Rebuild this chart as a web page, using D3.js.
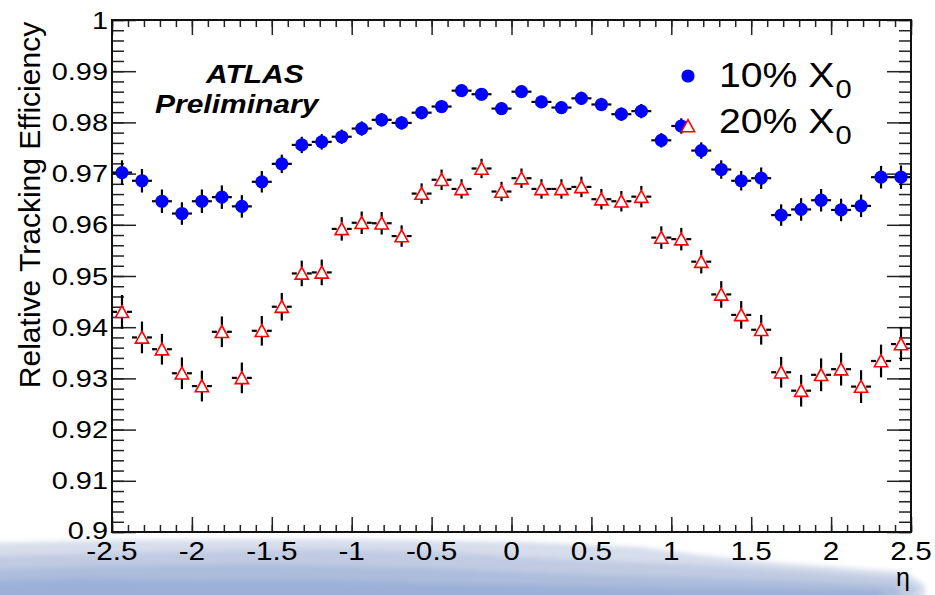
<!DOCTYPE html>
<html>
<head>
<meta charset="utf-8">
<script src="https://cdn.jsdelivr.net/npm/d3@7"></script>
<style>
html,body{margin:0;padding:0;background:#fff;}
svg{display:block;}
text{font-family:"Liberation Sans",Arial,Helvetica,sans-serif;fill:#000;}
</style>
</head>
<body>
<svg id="chart" width="935" height="595"></svg>
<script>
// ---- data ----
const etaCenters = [-2.4375,-2.3125,-2.1875,-2.0625,-1.9375,-1.8125,-1.6875,-1.5625,-1.4375,-1.3125,
  -1.1875,-1.0625,-0.9375,-0.8125,-0.6875,-0.5625,-0.4375,-0.3125,-0.1875,-0.0625,
  0.0625,0.1875,0.3125,0.4375,0.5625,0.6875,0.8125,0.9375,1.0625,1.1875,
  1.3125,1.4375,1.5625,1.6875,1.8125,1.9375,2.0625,2.1875,2.3125,2.4375];
const binHalfWidth = 0.0625;
const eff10 = [0.9702,0.9686,0.9646,0.9622,0.9646,0.9654,0.9636,0.9684,0.9719,0.9756,
  0.9762,0.9772,0.9788,0.9805,0.9799,0.9819,0.9831,0.9862,0.9855,0.9827,
  0.9860,0.9840,0.9829,0.9847,0.9835,0.9816,0.9822,0.9765,0.9793,0.9745,
  0.9708,0.9686,0.9691,0.9619,0.9630,0.9648,0.9629,0.9637,0.9693,0.9693];
const err10 = [0.0024,0.0023,0.0023,0.0022,0.0023,0.0023,0.0022,0.0021,0.0018,0.0016,
  0.0015,0.0014,0.0014,0.0013,0.0013,0.0013,0.0012,0.0012,0.0012,0.0012,
  0.0012,0.0012,0.0012,0.0013,0.0013,0.0013,0.0014,0.0014,0.0015,0.0016,
  0.0018,0.0019,0.0021,0.0021,0.0022,0.0022,0.0022,0.0022,0.0022,0.0023];
const eff20 = [0.9430,0.9380,0.9357,0.9310,0.9285,0.9391,0.9301,0.9393,0.9440,0.9505,
  0.9507,0.9592,0.9604,0.9603,0.9578,0.9661,0.9688,0.9670,0.9710,0.9665,
  0.9691,0.9670,0.9670,0.9674,0.9650,0.9646,0.9655,0.9575,0.9572,0.9528,
  0.9464,0.9424,0.9395,0.9312,0.9276,0.9307,0.9318,0.9284,0.9334,0.9367];
const err20 = [0.0033,0.0031,0.0030,0.0031,0.0030,0.0030,0.0030,0.0029,0.0027,0.0025,
  0.0025,0.0023,0.0022,0.0022,0.0021,0.0020,0.0020,0.0019,0.0019,0.0019,
  0.0019,0.0019,0.0019,0.0020,0.0020,0.0020,0.0021,0.0022,0.0022,0.0023,
  0.0026,0.0027,0.0029,0.0030,0.0031,0.0032,0.0032,0.0032,0.0032,0.0033];
const xTickValues = [-2.5,-2,-1.5,-1,-0.5,0,0.5,1,1.5,2,2.5];
const xTickLabels = ["-2.5","-2","-1.5","-1","-0.5","0","0.5","1","1.5","2","2.5"];
const yTickValues = [0.9,0.91,0.92,0.93,0.94,0.95,0.96,0.97,0.98,0.99,1.0];
const yTickLabels = ["0.9","0.91","0.92","0.93","0.94","0.95","0.96","0.97","0.98","0.99","1"];
const seriesNames = ["10% X", "20% X"];
const seriesSub = ["0", "0"];

// ---- layout ----
const L = 112, R = 911, T = 20, B = 532;
const x = d3.scaleLinear().domain([-2.5, 2.5]).range([L, R]);
const y = d3.scaleLinear().domain([0.9, 1.0]).range([B, T]);
const svg = d3.select("#chart");

// background smudge (slide background)
const defs = svg.append("defs");
defs.append("filter").attr("id","blur").attr("x","-10%").attr("y","-50%").attr("width","120%").attr("height","200%")
  .append("feGaussianBlur").attr("stdDeviation", 2.5);
const bg = svg.append("g").attr("filter","url(#blur)");
bg.append("path").attr("fill","#d6ddeb")
  .attr("d","M-10,543 L120,540 L330,539 L520,542 L640,547 L700,555 L780,563 L850,568 L905,572 L925,585 L925,600 L-10,600 Z");
bg.append("path").attr("fill","#c0cbe2")
  .attr("d","M-10,556 L150,552 L330,549 L460,553 L560,559 L700,565 L820,572 L900,578 L918,588 L910,600 L-10,600 Z");
bg.append("path").attr("fill","#abbcdc")
  .attr("d","M-10,570 L100,566 L260,564 L420,568 L560,574 L700,578 L820,582 L895,586 L905,600 L-10,600 Z");
bg.append("path").attr("fill","#9bb0d6")
  .attr("d","M-10,582 L80,579 L200,581 L300,580 L420,583 L600,587 L760,589 L880,591 L885,600 L-10,600 Z");

// plot area
svg.append("rect").attr("x",L).attr("y",T).attr("width",R-L).attr("height",B-T).attr("fill","#fff");

// ---- axes ticks ----
const tickColor = "#222";
const xMinor = d3.range(-2.5, 2.5001, 0.1).map(v => +v.toFixed(2));
const yMinor = d3.range(0.9, 1.0001, 0.002).map(v => +v.toFixed(3));
function styleAxis(g){ g.select(".domain").remove(); g.selectAll("line").attr("stroke",tickColor).attr("stroke-width",1.5); g.selectAll("text").remove(); }
svg.append("g").attr("transform",`translate(0,${B})`).call(d3.axisBottom(x).tickValues(xMinor).tickSize(-7)).call(styleAxis);
svg.append("g").attr("transform",`translate(0,${B})`).call(d3.axisBottom(x).tickValues(xTickValues).tickSize(-15)).call(styleAxis);
svg.append("g").attr("transform",`translate(0,${T})`).call(d3.axisTop(x).tickValues(xMinor).tickSize(-7)).call(styleAxis);
svg.append("g").attr("transform",`translate(0,${T})`).call(d3.axisTop(x).tickValues(xTickValues).tickSize(-15)).call(styleAxis);
svg.append("g").attr("transform",`translate(${L},0)`).call(d3.axisLeft(y).tickValues(yMinor).tickSize(-12)).call(styleAxis);
svg.append("g").attr("transform",`translate(${L},0)`).call(d3.axisLeft(y).tickValues(yTickValues).tickSize(-24)).call(styleAxis);
svg.append("g").attr("transform",`translate(${R},0)`).call(d3.axisRight(y).tickValues(yMinor).tickSize(-12)).call(styleAxis);
svg.append("g").attr("transform",`translate(${R},0)`).call(d3.axisRight(y).tickValues(yTickValues).tickSize(-24)).call(styleAxis);

// frame
svg.append("rect").attr("x",L).attr("y",T).attr("width",R-L).attr("height",B-T)
  .attr("fill","none").attr("stroke","#111").attr("stroke-width",2);

// tick labels
const xl = svg.append("g");
xTickValues.forEach((v,i) => {
  xl.append("g").attr("transform",`translate(${x(v)},560)`)
    .append("text").attr("transform","scale(1.19,1)").attr("text-anchor","middle")
    .attr("font-size",25).text(xTickLabels[i]);
});
const yl = svg.append("g");
yTickValues.forEach((v,i) => {
  const dy = i === 0 ? 6.5 : 8.5;
  yl.append("g").attr("transform",`translate(108,${y(v)+dy})`)
    .append("text").attr("transform","scale(1.23,1)").attr("text-anchor","end")
    .attr("font-size",23.5).text(yTickLabels[i]);
});

// axis titles
svg.append("text").attr("transform","translate(40,205) rotate(-90)").attr("text-anchor","middle")
  .attr("font-size",30).text("Relative Tracking Efficiency");
svg.append("text").attr("x",910).attr("y",586).attr("text-anchor","end").attr("font-size",25).text("η");

// ATLAS label
svg.append("g").attr("transform","translate(206,83)").append("text").attr("transform","scale(1.2,1)")
  .attr("font-size",25).attr("font-weight","bold").attr("font-style","italic").text("ATLAS");
svg.append("g").attr("transform","translate(155,113)").append("text").attr("transform","scale(1.2,1)")
  .attr("font-size",25).attr("font-weight","bold").attr("font-style","italic").text("Preliminary");

// ---- data marks ----
const triPath = "M0,-6.3 L6.6,5.7 L-6.6,5.7 Z";
const errStroke = "#000", errW = 2.2;

// series 1 (blue circles)
const g1 = svg.append("g");
etaCenters.forEach((c,i) => {
  const cx = x(c), cy = y(eff10[i]);
  g1.append("line").attr("x1",x(c-binHalfWidth)).attr("x2",x(c+binHalfWidth)).attr("y1",cy).attr("y2",cy)
    .attr("stroke",errStroke).attr("stroke-width",errW);
  g1.append("line").attr("x1",cx).attr("x2",cx).attr("y1",y(eff10[i]-err10[i])).attr("y2",y(eff10[i]+err10[i]))
    .attr("stroke",errStroke).attr("stroke-width",errW);
});
etaCenters.forEach((c,i) => {
  g1.append("circle").attr("cx",x(c)).attr("cy",y(eff10[i])).attr("r",6.6).attr("fill","#0000ff");
});

// series 2 (red open triangles)
const g2 = svg.append("g");
etaCenters.forEach((c,i) => {
  const cx = x(c), cy = y(eff20[i]);
  const x0 = x(c-binHalfWidth), x1 = x(c+binHalfWidth);
  g2.append("line").attr("x1",x0).attr("x2",cx-5).attr("y1",cy).attr("y2",cy).attr("stroke",errStroke).attr("stroke-width",errW);
  g2.append("line").attr("x1",cx+5).attr("x2",x1).attr("y1",cy).attr("y2",cy).attr("stroke",errStroke).attr("stroke-width",errW);
  const yt = y(eff20[i]+err20[i]), yb = y(eff20[i]-err20[i]);
  if (yt < cy-6.3) g2.append("line").attr("x1",cx).attr("x2",cx).attr("y1",yt).attr("y2",cy-6.3).attr("stroke",errStroke).attr("stroke-width",errW);
  if (yb > cy+5.7) g2.append("line").attr("x1",cx).attr("x2",cx).attr("y1",cy+5.7).attr("y2",yb).attr("stroke",errStroke).attr("stroke-width",errW);
  g2.append("path").attr("d",triPath).attr("transform",`translate(${cx},${cy})`)
    .attr("fill","#fff").attr("stroke","#ff0000").attr("stroke-width",1.6);
});

// ---- legend ----
const lg = svg.append("g");
lg.append("circle").attr("cx",688).attr("cy",76).attr("r",6.6).attr("fill","#0000ff");
lg.append("path").attr("d",triPath).attr("transform","translate(688,126)").attr("fill","#fff").attr("stroke","#ff0000").attr("stroke-width",1.6);
[[87,0],[133,1]].forEach(([by,k]) => {
  const t = lg.append("g").attr("transform",`translate(719,${by})`).append("text").attr("transform","scale(1.12,1)").attr("font-size",35);
  t.append("tspan").text(seriesNames[k]);
  t.append("tspan").attr("font-size",26).attr("dy",11).attr("dx",1).text(seriesSub[k]);
});
</script>
</body>
</html>
